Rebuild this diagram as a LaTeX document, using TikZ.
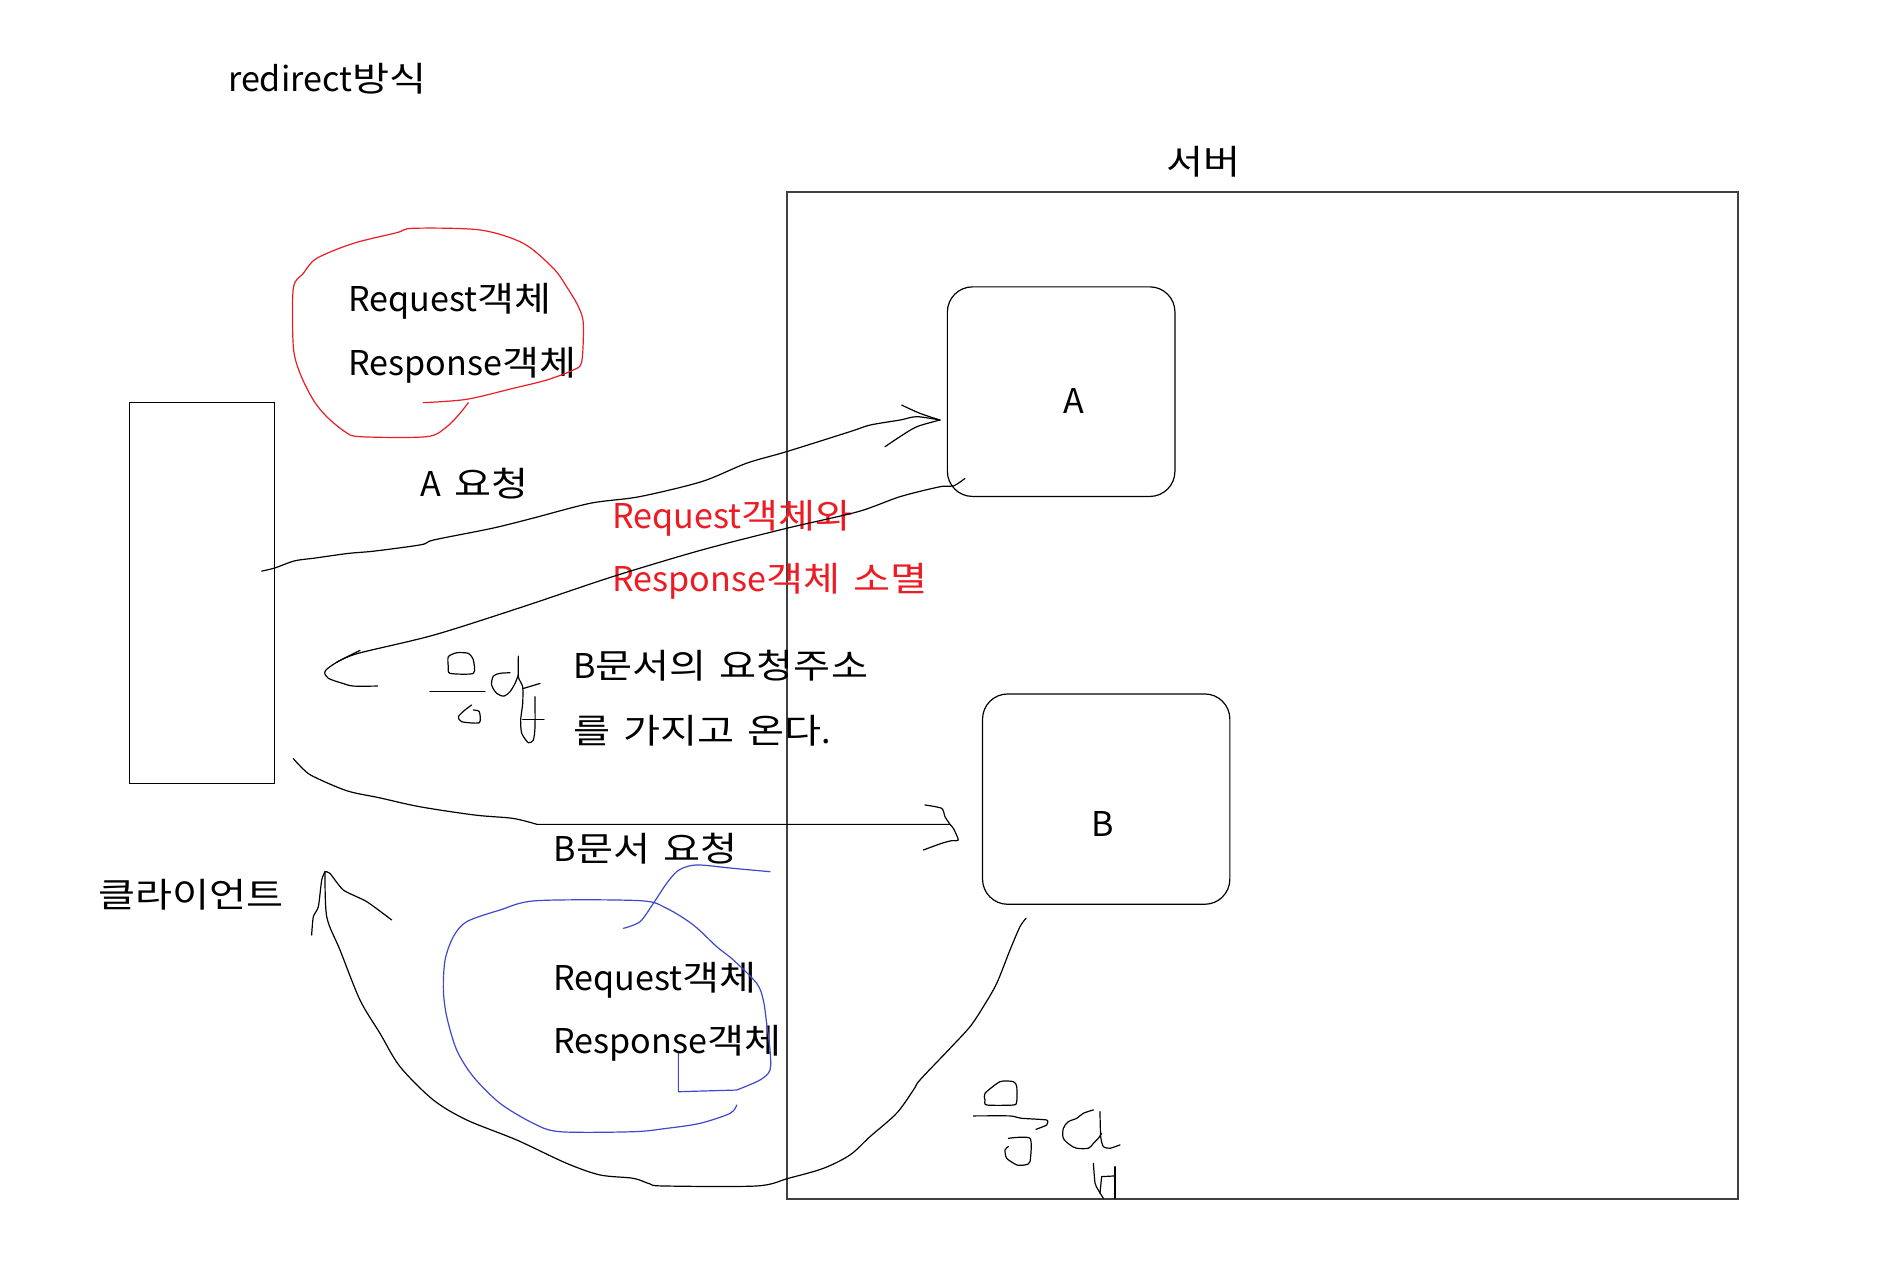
\documentclass[tikz,border=0pt]{standalone}
\usepackage{fontspec}
\setmainfont{Noto Sans CJK KR}[WordSpace=1.8]
\newfontfamily\hg{Noto Sans CJK KR}[FakeStretch=1.18, WordSpace=1.45]
\definecolor{pred}{RGB}{237,28,36}
\definecolor{pblue}{RGB}{63,72,204}
\begin{document}
\begin{tikzpicture}[x=1pt,y=-1pt,
  txt/.style={inner sep=0pt, outer sep=0pt, anchor=base west, font=\fontsize{28.5}{34}\selectfont},
  ctxt/.style={inner sep=0pt, outer sep=0pt, anchor=base, font=\fontsize{28.5}{34}\selectfont},
  hand/.style={line width=1pt, line join=round, line cap=round},
  box/.style={draw, inner sep=0pt, outer sep=0pt, line width=1pt},
  rbox/.style={box, rounded corners=21pt}]
\useasboundingbox[fill=white] (0,0) rectangle (1568,1057);

% labels
\node[txt] (title) at (190.5,76.5) {redirect{\hg 방식}};
\node[txt] (serverlbl) at (974,145.5) {\hg 서버};
\node[txt] (clientlbl) at (82,758) {\hg 클라이언트};

% boxes
\node[box, draw=black!75, line width=1.6pt, minimum width=794pt, minimum height=841pt] (server) at (1054,580.5) {};
\node[rbox, minimum width=190pt, minimum height=175pt] (boxA) at (886,327) {};
\node[ctxt] (Alabel) at (897,345.5) {A};
\node[rbox, minimum width=206.5pt, minimum height=175.6pt] (boxB) at (923.6,667.2) {};
\node[ctxt] (Blabel) at (920.4,698.6) {B};
\node[box, line width=1.2pt, minimum width=121pt, minimum height=318pt] (client) at (168.5,495) {};

% texts
\node[txt] (req1) at (290.8,260.2) {Request{\hg 객체}};
\node[txt] (res1) at (290.8,313.7) {Response{\hg 객체}};
\node[txt] (areq) at (351,414.7) {A {\hg 요청}};
\node[txt, text=pred] (kill1) at (511.4,441.1) {Request{\hg 객체와}};
\node[txt, text=pred] (kill2) at (511.4,494) {Response{\hg 객체 소멸}};
\node[txt] (baddr1) at (478.6,566.3) {B{\hg 문서의 요청주소}};
\node[txt] (baddr2) at (478.6,620.6) {{\hg 를 가지고 온다}.};
\node[txt] (breq) at (462.4,719.4) {B{\hg 문서 요청}};
\node[txt] (req2) at (462,826.6) {Request{\hg 객체}};
\node[txt] (res2) at (462,880) {Response{\hg 객체}};

% red loop
\draw[hand, pred] plot[smooth, tension=0.5] coordinates {(391,336.2) (384,345.1) (373,356.3) (356.2,364.6) (300.6,364.6) (288,360.4) (272.8,347.9) (261.6,334) (250.5,311.7) (244.9,289.5) (244.9,240.7) (253.3,228.2) (264.4,215.7) (295,203.2) (331.2,194.3) (345.1,190.6) (400.8,192) (437,203.2) (462,224) (473.1,239.4) (482.9,256) (487,270) (485.7,302) (478.7,308.9) (456.4,317.3) (428.6,324.2) (389.6,333.4) (353.4,336.2)};

% A request
\coordinate (aStart) at (218.5,476.8);
\coordinate (aTip) at (784.8,350.7);
\draw[hand] plot[smooth, tension=0.5] coordinates {(aStart) (229.2,474.3) (245.9,468.3) (262.6,466) (290.4,462.1) (312.7,460.1) (351.6,454.8) (362.3,450.8) (410.8,441.1) (444.3,432.8) (492.8,420.2) (533.8,414.7) (585.9,402.1) (623.2,386.8) (656.7,377.1) (709.7,360.4) (726.4,354.9) (751.4,350.7) (765.4,347.9) (aTip)};
\draw[hand] plot[smooth, tension=0.5] coordinates {(752.8,338.2) (768.1,345.1) (aTip)};
\draw[hand] plot[smooth, tension=0.5] coordinates {(738.9,373) (751.4,364.6) (765.4,356.3) (aTip)};

% return from A
\coordinate (rStart) at (805.7,399.4);
\coordinate (rTip) at (281.1,553);
\draw[hand] plot[smooth, tension=0.5] coordinates {(rStart) (796,405.8) (784.8,406.4) (751.4,414.7) (716.4,427.2) (656.7,441.1) (585.9,459.2) (511.4,481.5) (436.9,506.5) (362.3,530.2) (299,545.5) (rTip)};
\draw[hand] plot[smooth, tension=0.5] coordinates {(300.6,543) (rTip) (271.4,560.4) (274.1,566.3) (286.6,570.7) (295,572.8) (315.3,572.8)};

% handwritten 응답 (1)
\draw[hand] plot[smooth cycle, tension=0.4] coordinates {(374.3,548.3) (381.3,545) (391,545.5) (395.2,551.1) (395.2,562.2) (375.7,562.2) (374.3,556.6)};
\draw[hand] (359,577.5) -- (405,577.5);
\draw[hand] plot[smooth, tension=0.4] coordinates {(393.8,588.6) (388.2,592.8) (382.7,598.4) (385.5,602.6) (400.2,603.4) (400.2,594.2) (395.2,592.8)};
\draw[hand] plot[smooth, tension=0.5] coordinates {(425.8,561.7) (417.5,562.2) (411.9,564.5) (410.5,572) (414.7,578.9) (420.8,581.2) (425.8,577.5) (430,570.6) (432.8,563.6)};
\draw[hand] plot[smooth, tension=0.4] coordinates {(432.8,547.8) (432.8,565) (436.4,573.4) (436.4,587.3) (434.7,601.2) (435.6,612.3) (441.1,620.1) (445.3,617.9) (446.7,606.8) (446.7,581.7)};
\draw[hand] (437,574.8) -- (450.9,570.6);
\draw[hand] (436.4,600.6) -- (454.2,600.6);

% B request
\coordinate (bStart) at (244.9,633.4);
\coordinate (bMid) at (448.4,688.3);
\coordinate (bTip) at (793.2,688.3);
\draw[hand] plot[smooth, tension=0.5] coordinates {(bStart) (253.3,642.3) (261.6,648.3) (289.5,660.2) (317.3,666.2) (350.7,673.6) (396.5,680.5) (428.4,683.3) (bMid)} -- (bTip);
\draw[hand] plot[smooth, tension=0.4] coordinates {(772.3,672.1) (786.2,674.9) (789,681.9) (bTip) (796,691.6) (800.1,701.3) (794.5,701.9) (786.2,704.1) (770.9,709.7)};

% B response back to client
\coordinate (cStart) at (856.7,766.7);
\coordinate (cTip) at (271.4,727.8);
\draw[hand] plot[smooth, tension=0.5] coordinates {(cStart) (851.6,773.7) (843.3,793.1) (832.2,821) (821,840.5) (809.9,857.2) (793.2,875.3) (768.1,901.7) (762.6,910.1) (748.6,929.5) (726.4,949) (709.7,964.3) (687.4,975.5) (658.2,983.8) (631.8,990.2) (553.8,990.2) (542.7,988.5) (528.8,983.8) (501,981) (473.1,971.3) (431.4,951.8) (389.7,935.1) (361.8,918.4) (334,890.6) (317.3,862.8) (300.6,835) (283.9,793.2) (272.8,765.4) (cTip)};
\draw[hand] plot[smooth, tension=0.4] coordinates {(260.2,780.7) (261.6,765.4) (265.8,757) (268.6,734.7) (cTip)};
\draw[hand] plot[smooth, tension=0.4] coordinates {(cTip) (275.5,729.2) (286.7,743.1) (306.2,752.8) (327,768.1)};

% blue loop
\draw[hand, pblue] plot[smooth, tension=0.5] coordinates {(520.5,775.1) (534.4,769.5) (545.5,754.2) (556.6,737.5) (565,727.8) (573.3,723.6) (584.5,722.2) (612.3,725) (642.9,727.8)};
\draw[hand, pblue] plot[smooth, tension=0.5] coordinates {(615.1,922.6) (609.5,929.6) (584.5,937.9) (556.6,942.1) (528.8,944.9) (467.6,944.9) (445.3,937.9) (417.5,921.2) (395.2,899) (381.3,876.7) (373,848.9) (370.2,826.6) (371.6,801.5) (378.5,782.1) (389.7,769.5) (417.5,759.8) (448.1,752) (534.4,752) (556.6,758.4) (578.9,772.3) (598.4,790.4) (612.3,801.5) (631.8,821) (637.3,835) (640.1,854.4) (642.9,876.7) (642.9,893.4) (634.6,901.7) (615.1,910.1)} -- (566.4,911.5) -- (566.4,879.5);

% handwritten 응답 (2)
\draw[hand] plot[smooth cycle, tension=0.4] coordinates {(822.4,912.8) (835,903.1) (846.1,903.1) (848.9,907.2) (848.9,919.8) (846.1,922.6) (823.8,922.6) (822.4,918.4)};
\draw[hand] plot[smooth, tension=0.3] coordinates {(812.7,931.7) (843.3,931.7) (853,933.7) (873.9,935.1) (873.9,939.3) (865,942.9)};
\draw[hand] plot[smooth, tension=0.4] coordinates {(841.9,950.4) (860,950.4) (860,969.9) (855.8,972.6) (848.9,972.6) (840.5,967.1) (839.1,960.1) (841.9,957.3)};
\draw[hand] plot[smooth, tension=0.5] coordinates {(912.9,926.7) (904.5,929.5) (899,933.7) (892,936.5) (887.8,942.1) (887.8,950.4) (893.4,955.9) (899,958.7) (908.7,958.7) (912.9,954.6) (917,950.4) (919.8,946.2)};
\draw[hand] plot[smooth, tension=0.4] coordinates {(918.4,928.1) (919,949) (921.2,957.3) (926.8,958.7) (935.1,955.9)};
\draw[hand] plot[smooth, tension=0.4] coordinates {(912.9,971.3) (914.3,988) (917,993.6) (921.2,1000.5)};
\draw[hand] (918.4,996.3) -- (919.8,982.4) -- (931,981.8);
\draw[hand] (931,974.1) -- (931,1000.5);
\end{tikzpicture}
\end{document}
